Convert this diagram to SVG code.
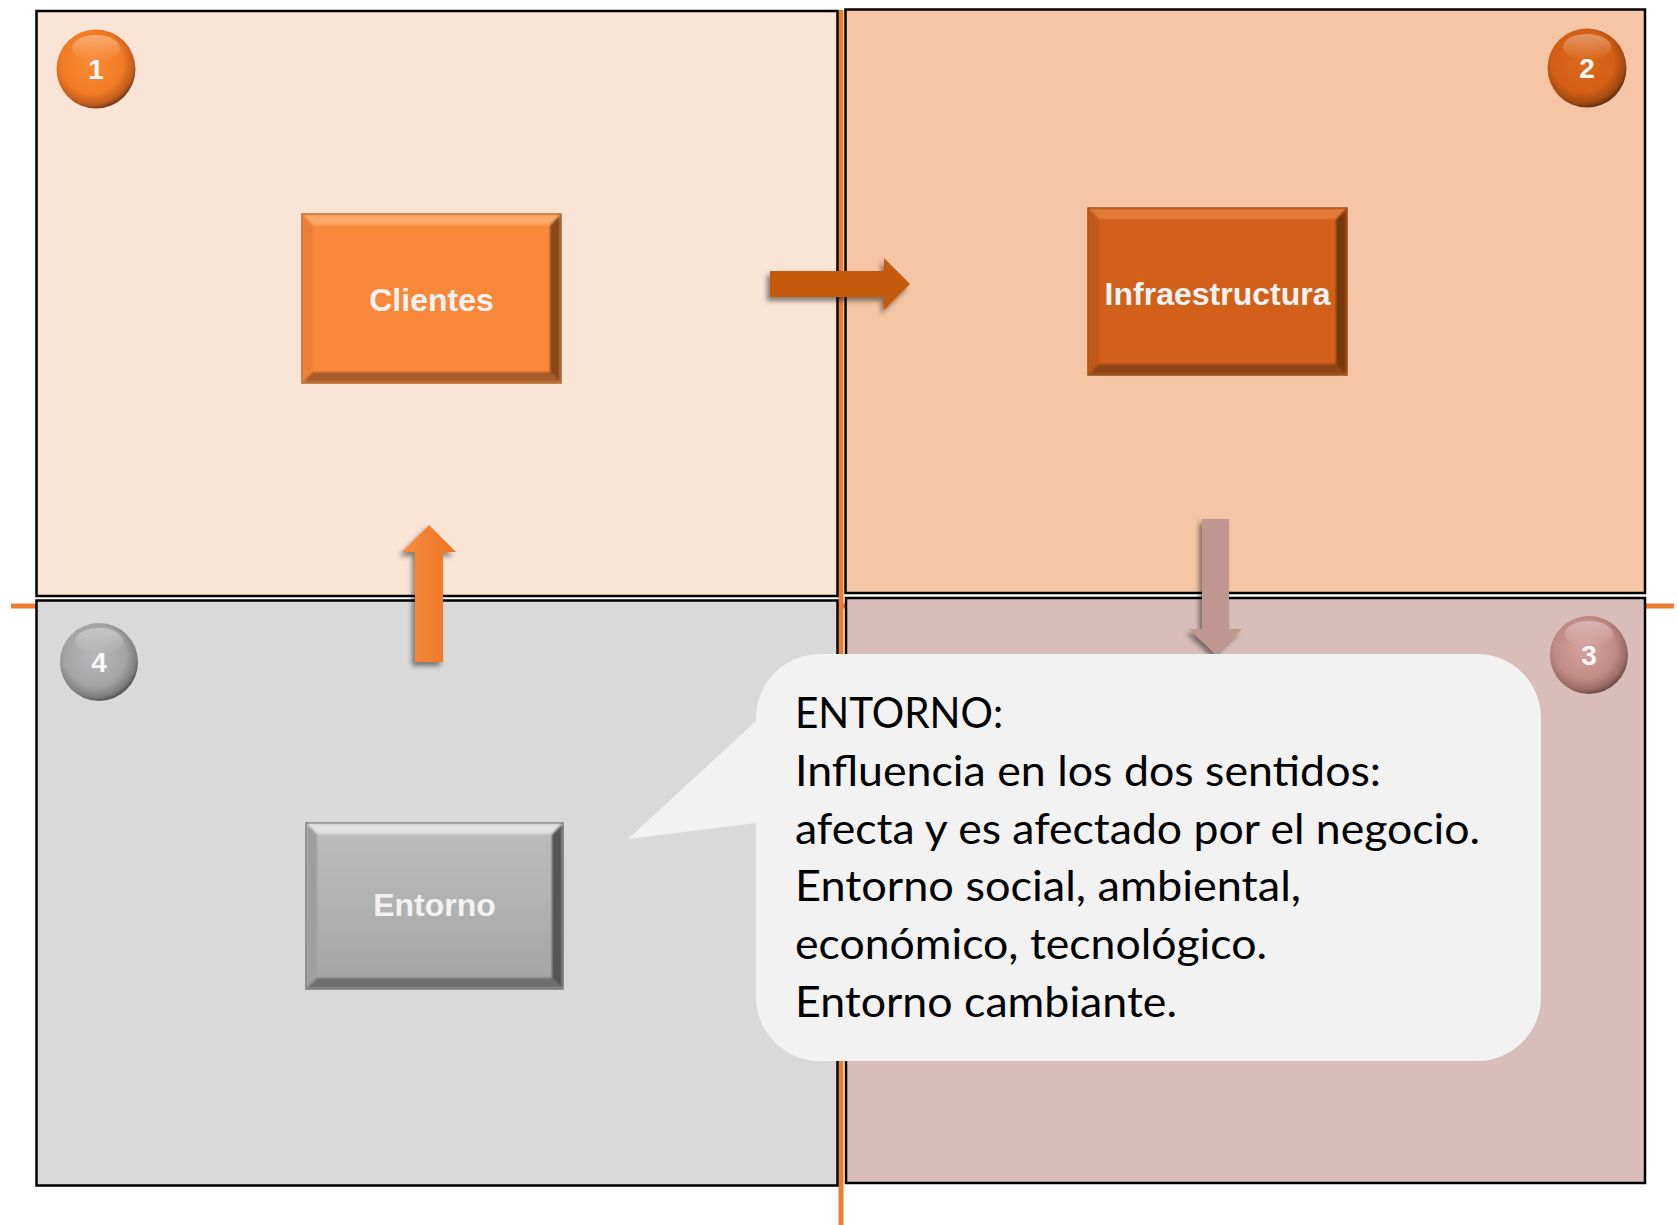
<svg xmlns="http://www.w3.org/2000/svg" width="1678" height="1225" viewBox="0 0 1678 1225">
<style>
.quad{stroke:#000;stroke-width:2.5}
.lbl{font-family:"Liberation Sans",Arial,sans-serif;font-weight:bold;font-size:32px;fill:#F2F2F2;text-anchor:middle}
.num{font-family:"Liberation Sans",Arial,sans-serif;font-weight:bold;font-size:28px;fill:#F8F8F8;text-anchor:middle}
.call{font-family:Lato,"Open Sans",sans-serif;font-size:43px;fill:#000}
.guide{stroke:#ED7D31;stroke-width:5;fill:none}
</style>
<defs>
<filter id="sh" x="-30%" y="-30%" width="160%" height="160%">
<feDropShadow dx="-3" dy="4" stdDeviation="2.5" flood-color="#000" flood-opacity="0.45"/>
</filter>
<filter id="soft" x="-5%" y="-5%" width="110%" height="110%">
<feGaussianBlur stdDeviation="1.2"/>
</filter>
<radialGradient id="b1" cx="0.45" cy="0.42" r="0.6">
<stop offset="0" stop-color="#F98B38"/><stop offset="0.65" stop-color="#F27C25"/><stop offset="0.88" stop-color="#C25C1C"/><stop offset="1" stop-color="#5E3418"/>
</radialGradient>
<radialGradient id="b2" cx="0.45" cy="0.42" r="0.6">
<stop offset="0" stop-color="#DC6A1C"/><stop offset="0.65" stop-color="#D45F15"/><stop offset="0.88" stop-color="#A04810"/><stop offset="1" stop-color="#4E2A12"/>
</radialGradient>
<radialGradient id="b3" cx="0.45" cy="0.42" r="0.6">
<stop offset="0" stop-color="#D4A39D"/><stop offset="0.65" stop-color="#C28C86"/><stop offset="0.88" stop-color="#9A6A66"/><stop offset="1" stop-color="#5E4240"/>
</radialGradient>
<radialGradient id="b4" cx="0.45" cy="0.42" r="0.6">
<stop offset="0" stop-color="#B8B8B8"/><stop offset="0.65" stop-color="#A5A5A5"/><stop offset="0.88" stop-color="#7E7E7E"/><stop offset="1" stop-color="#4A4A4A"/>
</radialGradient>
<linearGradient id="hl" x1="0" y1="0" x2="0" y2="1">
<stop offset="0" stop-color="#FFFFFF" stop-opacity="0.35"/><stop offset="1" stop-color="#FFFFFF" stop-opacity="0"/>
</linearGradient>
<linearGradient id="gray" x1="0" y1="0" x2="0" y2="1">
<stop offset="0" stop-color="#BEBEBE"/><stop offset="1" stop-color="#A4A4A4"/>
</linearGradient>
<linearGradient id="upar" x1="0" y1="0" x2="1" y2="0">
<stop offset="0" stop-color="#F58C42"/><stop offset="1" stop-color="#EE7420"/>
</linearGradient>
</defs>

<!-- orange guide cross (behind quadrants) -->
<g id="guides">
<line class="guide" x1="11" y1="606" x2="1674" y2="606"/>
<line class="guide" x1="841" y1="10" x2="841" y2="1225" stroke-width="4"/>
</g>

<!-- quadrants -->
<g id="quadrants">
<rect id="q1" class="quad" x="36.5" y="11" width="801" height="585" fill="#FAE4D6"/>
<rect id="q2" class="quad" x="845.5" y="9.5" width="799.5" height="583.5" fill="#F6C5A5"/>
<rect id="q4" class="quad" x="36.5" y="600.5" width="801" height="585" fill="#D9D9D9"/>
<rect id="q3" class="quad" x="846" y="598" width="799" height="585" fill="#D9BDBA"/>
</g>

<!-- badges -->
<g id="badge1">
<circle cx="96" cy="69" r="39.5" fill="url(#b1)"/>
<ellipse cx="96" cy="48" rx="24" ry="13" fill="url(#hl)"/>
<text class="num" x="96" y="79">1</text>
</g>
<g id="badge2">
<circle cx="1587" cy="68" r="39.5" fill="url(#b2)"/>
<ellipse cx="1587" cy="47" rx="24" ry="13" fill="url(#hl)"/>
<text class="num" x="1587" y="78">2</text>
</g>
<g id="badge3">
<circle cx="1589" cy="655" r="39" fill="url(#b3)"/>
<ellipse cx="1589" cy="634" rx="24" ry="13" fill="url(#hl)"/>
<text class="num" x="1589" y="665">3</text>
</g>
<g id="badge4">
<circle cx="99" cy="662" r="39" fill="url(#b4)"/>
<ellipse cx="99" cy="641" rx="24" ry="13" fill="url(#hl)"/>
<text class="num" x="99" y="672">4</text>
</g>

<!-- nodes -->
<g id="clientes">
<rect x="302" y="214" width="259" height="169" fill="#F9883A" stroke="#B0693A" stroke-width="1.5"/>
<g filter="url(#soft)">
<polygon points="303,215 560,215 550,225 313,225" fill="#FCA866"/>
<polygon points="303,215 313,225 313,372 303,382" fill="#EC7F38"/>
<polygon points="560,215 560,382 550,372 550,225" fill="#84491F"/>
<polygon points="303,382 313,372 550,372 560,382" fill="#A65C2A"/>
</g>
<text class="lbl" x="431.5" y="311">Clientes</text>
</g>
<g id="infraestructura">
<rect x="1088" y="208" width="259" height="167" fill="#D2601A" stroke="#94501E" stroke-width="1.5"/>
<g filter="url(#soft)">
<polygon points="1089,209 1346,209 1336,219 1098,219" fill="#E27A38"/>
<polygon points="1089,209 1099,219 1099,364 1089,374" fill="#C25818"/>
<polygon points="1346,209 1346,374 1336,364 1336,219" fill="#743711"/>
<polygon points="1089,374 1099,364 1336,364 1346,374" fill="#8C4518"/>
</g>
<text class="lbl" x="1217.5" y="305">Infraestructura</text>
</g>
<g id="entorno">
<rect x="306" y="823" width="257" height="166" fill="url(#gray)" stroke="#7A7A7A" stroke-width="1.5"/>
<g filter="url(#soft)">
<polygon points="307,824 562,824 552,834 317,834" fill="#E2E2E2"/>
<polygon points="307,824 317,834 317,978 307,988" fill="#9E9E9E"/>
<polygon points="562,824 562,988 552,978 552,834" fill="#555555"/>
<polygon points="307,988 317,978 552,978 562,988" fill="#6E6E6E"/>
</g>
<text class="lbl" x="434.5" y="916">Entorno</text>
</g>

<!-- connectors -->
<g id="connectors">
<polygon filter="url(#sh)" fill="#C55A11" points="770,271 884,271 884,258 910,284 884,310 884,297 770,297"/>
<polygon filter="url(#sh)" fill="#BF9690" points="1202,519 1229,519 1229,629 1242,629 1215.5,654 1189,629 1202,629"/>
<polygon filter="url(#sh)" fill="url(#upar)" points="415,662 443,662 443,552 456,552 429,525 402,552 415,552"/>
</g>

<!-- callout -->
<g id="callout">
<path fill="#F2F2F2" d="M820 654 H1477 A64 64 0 0 1 1541 718 V997 A64 64 0 0 1 1477 1061 H820 A64 64 0 0 1 756 997 V823 L628 839 L756 721 V718 A64 64 0 0 1 820 654 Z"/>
<text class="call" x="795" y="728" textLength="208" lengthAdjust="spacingAndGlyphs">ENTORNO:</text>
<text class="call" x="795" y="786" textLength="586" lengthAdjust="spacingAndGlyphs">Influencia en los dos sentidos:</text>
<text class="call" x="795" y="844" textLength="685" lengthAdjust="spacingAndGlyphs">afecta y es afectado por el negocio.</text>
<text class="call" x="795" y="901" textLength="506" lengthAdjust="spacingAndGlyphs">Entorno social, ambiental,</text>
<text class="call" x="795" y="959" textLength="472" lengthAdjust="spacingAndGlyphs">económico, tecnológico.</text>
<text class="call" x="795" y="1017" textLength="382" lengthAdjust="spacingAndGlyphs">Entorno cambiante.</text>
</g>
</svg>
